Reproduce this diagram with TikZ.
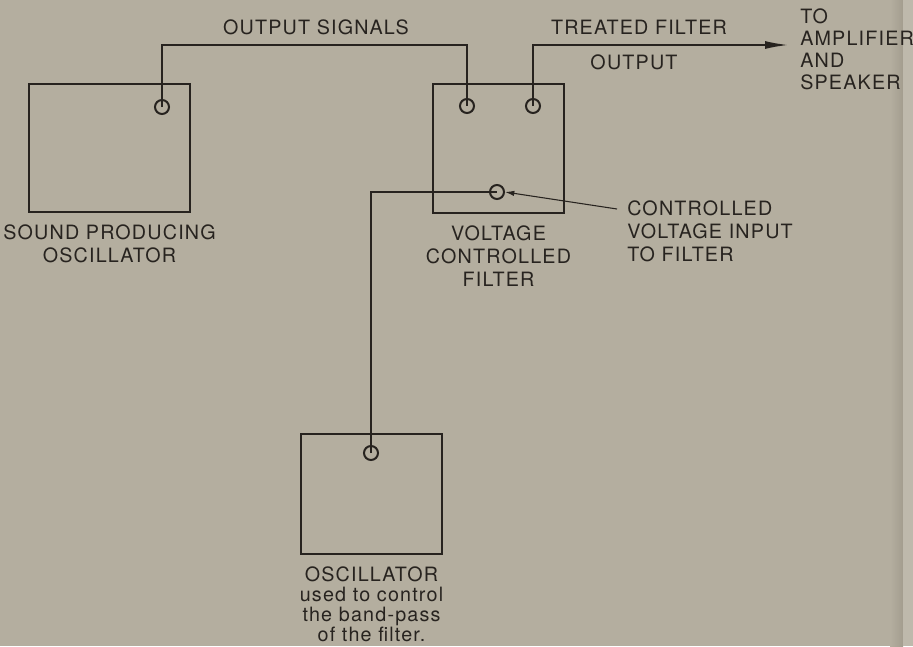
\documentclass[tikz,border=0pt]{standalone}
\usepackage{fontspec}
\setmainfont{TeX Gyre Heros}[LetterSpace=6]
\usetikzlibrary{arrows.meta,positioning}
\definecolor{paper}{HTML}{B4AE9F}
\definecolor{paperEdge}{HTML}{BEB9AC}
\definecolor{paperShade}{HTML}{A39D8F}
\definecolor{ink}{HTML}{27231F}
\newcommand\upx{0.75pt}

\begin{document}
\begin{tikzpicture}[x=0.75pt,y=-0.75pt,
    box/.style={draw=ink,line width=2.2pt,inner sep=0pt},
    jack/.style={circle,draw=ink,line width=1.5pt,minimum size=14*\upx,inner sep=0pt},
    wire/.style={draw=ink,line width=1.6pt},
    lab/.style={text=ink,inner sep=0pt,font=\fontsize{14.8}{17.25}\selectfont,align=center}]
  \useasboundingbox (0,0) rectangle (913,646);
  \fill[paper] (0,0) rectangle (913,646);
  \shade[left color=paper,right color=paperShade] (890,0) rectangle (903,646);
  \fill[paperEdge] (903,0) rectangle (913,646);

  \node[box,minimum width=161*\upx,minimum height=128*\upx] (sosc) at (109.5,148) {};
  \node[box,minimum width=131*\upx,minimum height=129*\upx] (vcf) at (498.5,148.5) {};
  \node[box,minimum width=141*\upx,minimum height=120*\upx] (cosc) at (371.5,494) {};

  \foreach \n/\p in {sout/{162,107},vin/{467,106},vout/{533,106},vcv/{497,192},cout/{371,453}} {
    \node[jack] (\n) at (\p) {};
  }

  \coordinate (top) at (0,45);
  \coordinate (tip) at (789,45);
  \coordinate (cvtail) at (617,209);

  \draw[wire] (sout.center) -- (sout.center |- top) -| (vin.center);
  \draw[wire,-{Latex[length=18pt,width=6pt]}] (vout.center) -- (vout.center |- top) -- (tip);
  \draw[wire] (cout.center) |- (vcv.center);
  \draw[ink,line width=0.8pt,-{Latex[length=7pt,width=4pt]}] (cvtail) -- (vcv.east);

  \node[lab] (outsig) at (316,27) {OUTPUT SIGNALS};
  \node[lab] (treated) at (639,27) {TREATED FILTER};
  \node[lab] (treatedb) at (634,62) {OUTPUT};
  \node[lab,align=left,anchor=north west,font=\fontsize{14.8}{16.5}\selectfont] (amp) at (800,8) {TO\\AMPLIFIER\\AND\\SPEAKER};
  \node[lab,below=8.25pt of sosc] (soscl) {SOUND PRODUCING\\OSCILLATOR};
  \node[lab,below=8.25pt of vcf] (vcfl) {VOLTAGE\\CONTROLLED\\FILTER};
  \node[lab,align=left,anchor=north west] (cvl) at (627,200) {CONTROLLED\\VOLTAGE INPUT\\TO FILTER};
  \node[lab,below=8pt of cosc,font=\fontsize{14.8}{15}\selectfont] (coscl) {OSCILLATOR\\used to control\\the band-pass\\of the filter.};
\end{tikzpicture}
\end{document}
